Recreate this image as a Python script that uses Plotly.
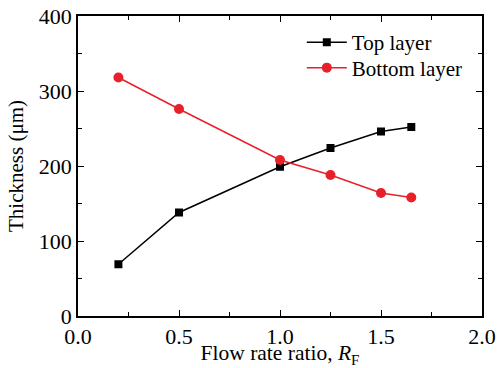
import plotly.graph_objects as go

x_top = [0.2, 0.5, 1.0, 1.25, 1.5, 1.65]
y_top = [69, 138, 199, 224, 246, 252]
x_bottom = [0.2, 0.5, 1.0, 1.25, 1.5, 1.65]
y_bottom = [318, 276, 208, 188, 164, 158]

x_ticks = [0.0, 0.5, 1.0, 1.5, 2.0]
x_tick_labels = ["0.0", "0.5", "1.0", "1.5", "2.0"]
y_ticks = [0, 100, 200, 300, 400]
y_tick_labels = ["0", "100", "200", "300", "400"]

font_family = "Liberation Serif"

fig = go.Figure()
fig.add_trace(go.Scatter(
    x=x_top, y=y_top, mode="lines+markers", name="Top layer",
    line=dict(color="black", width=1.5),
    marker=dict(symbol="square", size=8, color="black"),
    legend="legend",
))
fig.add_trace(go.Scatter(
    x=x_bottom, y=y_bottom, mode="lines+markers", name="Bottom layer",
    line=dict(color="#e8202a", width=1.5),
    marker=dict(symbol="circle", size=10, color="#e8202a"),
    legend="legend2",
))

axis_common = dict(
    showgrid=False, zeroline=False, showline=True, linecolor="black", linewidth=1.5,
    mirror="allticks", ticks="inside", ticklen=6, tickwidth=1.2, tickcolor="black",
    tickfont=dict(family=font_family, size=22, color="black"),
    automargin=False, ticklabeloverflow="allow",
)

fig.update_xaxes(
    range=[0, 2.0], tickvals=x_ticks, ticktext=x_tick_labels,
    minor=dict(dtick=0.25, ticks="inside", ticklen=4, tickwidth=1.2, tickcolor="black"),
    title=dict(text="Flow rate ratio, <i>R</i><sub>F</sub>", font=dict(family=font_family, size=21.5, color="black"), standoff=2),
    **axis_common,
)
fig.update_yaxes(
    range=[0, 400], tickvals=y_ticks, ticktext=y_tick_labels,
    minor=dict(dtick=50, ticks="inside", ticklen=4, tickwidth=1.2, tickcolor="black"),
    title=dict(text="Thickness (μm)", font=dict(family=font_family, size=21, color="black"), standoff=9),
    **axis_common,
)

legend_common = dict(xanchor="left", yanchor="top", bgcolor="rgba(0,0,0,0)",
                     font=dict(family=font_family, size=21, color="black"), itemwidth=40)

fig.update_layout(
    width=497, height=368,
    margin=dict(l=78, r=15, t=16, b=52, autoexpand=False),
    plot_bgcolor="white", paper_bgcolor="white",
    font=dict(family=font_family, size=20, color="black"),
    legend=dict(x=0.554, y=0.98, **legend_common),
    legend2=dict(x=0.554, y=0.895, **legend_common),
    showlegend=True,
)

# remove the default 8px page margin so the figure sits at the window origin
fig.write_html("out.html", config={"displayModeBar": False},
               post_script="document.body.style.margin='0';")
